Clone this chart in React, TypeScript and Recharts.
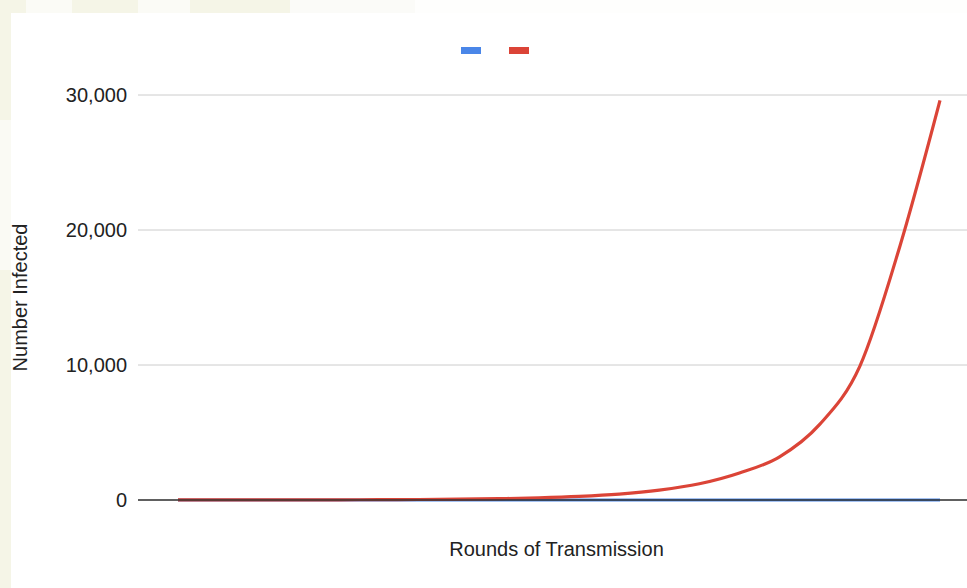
import React from 'react';
import {
  LineChart,
  Line,
  XAxis,
  YAxis,
  CartesianGrid,
} from 'recharts';

// ─── Data ──────────────────────────────────────────────────
const rounds = [1, 2, 3, 4, 5, 6, 7, 8, 9, 10, 11, 12, 13, 14, 15, 16, 17, 18, 19, 20];
const controlled = [1, 1, 1, 1, 1, 1, 1, 1, 1, 1, 1, 1, 1, 1, 1, 1, 1, 1, 1, 1];
const infected = [
  2, 3, 5, 8, 13, 22, 36, 60, 100, 165, 270, 440, 730, 1200, 2000, 3200, 5600,
  9900, 18800, 29600,
];
const yTicks = [0, 10000, 20000, 30000];

const series = [
  { key: 'controlled', color: '#4a86e8' },
  { key: 'infected', color: '#db4437' },
];

const data = rounds.map((r, i) => ({
  round: r,
  controlled: controlled[i],
  infected: infected[i],
}));

const font = '"Liberation Sans", Arial, sans-serif';

export default function App() {
  return (
    <div
      style={{
        position: 'absolute',
        left: 0,
        top: 0,
        width: 967,
        height: 588,
        overflow: 'hidden',
        background: '#f5f5e7',
        fontFamily: font,
      }}
    >
      {/* faint backdrop pattern */}
      <div style={{ position: 'absolute', left: 26, top: 0, width: 46, height: 14, background: '#fbfbf6' }} />
      <div style={{ position: 'absolute', left: 138, top: 0, width: 52, height: 14, background: '#fbfbf6' }} />
      <div style={{ position: 'absolute', left: 290, top: 0, width: 125, height: 14, background: '#fbfbf8' }} />
      <div style={{ position: 'absolute', left: 415, top: 0, width: 552, height: 14, background: '#fefefd' }} />
      <div style={{ position: 'absolute', left: 0, top: 120, width: 12, height: 150, background: '#fafaf4' }} />

      {/* white card */}
      <div
        style={{
          position: 'absolute',
          left: 11,
          top: 13,
          width: 956,
          height: 575,
          background: '#ffffff',
        }}
      />

      {/* legend (series have no names) */}
      <div style={{ position: 'absolute', left: 461, top: 47, display: 'flex', gap: 28 }}>
        {series.map((s) => (
          <div key={s.key} style={{ width: 20, height: 7, background: s.color }} />
        ))}
      </div>

      <div style={{ position: 'absolute', left: 0, top: 0 }}>
        <LineChart
          width={967}
          height={588}
          data={data}
          margin={{ top: 95, right: 0, bottom: 28, left: 0 }}
        >
          <CartesianGrid horizontal vertical={false} stroke="#cccccc" />
          <XAxis
            dataKey="round"
            height={60}
            tick={false}
            tickLine={false}
            axisLine={{ stroke: '#333333', strokeWidth: 1.5 }}
            padding={{ left: 40, right: 27 }}
            label={{
              content: ({ viewBox }: any) => (
                <text
                  x={viewBox.x + viewBox.width / 2 + 4}
                  y={viewBox.y + 51}
                  textAnchor="middle"
                  dominantBaseline="middle"
                  fontFamily={font}
                  fontSize={20}
                  fill="#222"
                >
                  Rounds of Transmission
                </text>
              ),
            }}
          />
          <YAxis
            width={138}
            domain={[0, 30000]}
            ticks={yTicks}
            axisLine={false}
            tickLine={false}
            tickSize={0}
            tickMargin={11}
            tickFormatter={(v: number) => v.toLocaleString('en-US')}
            tick={{ fill: '#222', fontSize: 20, fontFamily: font }}
            label={{
              content: ({ viewBox }: any) => (
                <text
                  x={22}
                  y={viewBox.y + viewBox.height / 2}
                  transform={`rotate(-90, 22, ${viewBox.y + viewBox.height / 2})`}
                  textAnchor="middle"
                  dominantBaseline="middle"
                  fontFamily={font}
                  fontSize={20}
                  fill="#222"
                >
                  Number Infected
                </text>
              ),
            }}
          />
          {series.map((s) => (
            <Line
              key={s.key}
              type="monotone"
              dataKey={s.key}
              stroke={s.color}
              strokeWidth={3.2}
              dot={false}
              isAnimationActive={false}
            />
          ))}
        </LineChart>
      </div>
    </div>
  );
}
